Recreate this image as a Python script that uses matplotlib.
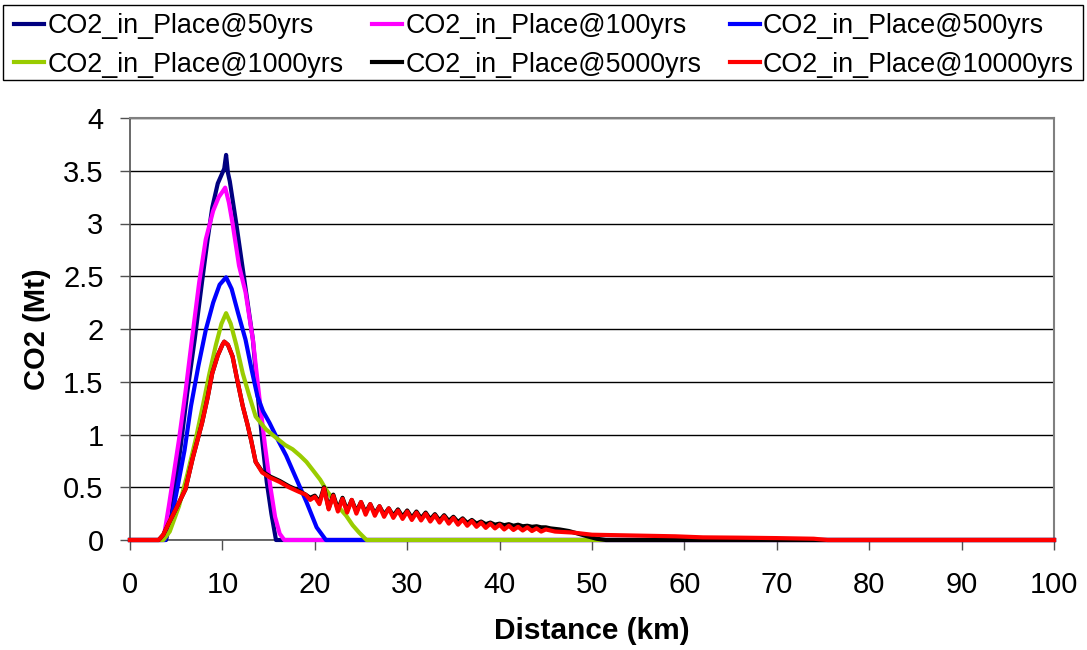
import numpy as np
import matplotlib.pyplot as plt
from matplotlib.lines import Line2D
from matplotlib.patches import Rectangle
from matplotlib.ticker import FormatStrFormatter, MultipleLocator

plt.rcParams['font.family'] = ['Liberation Sans', 'DejaVu Sans']

# CO2 in place (Mt) against distance (km)
x_50 = [0, 3.9, 4.5, 5.5, 6.2, 7.0, 7.8, 8.4, 8.9, 9.5, 10.0, 10.2, 10.4, 10.6, 10.8, 11.5,
        12.4, 13.3, 13.8, 14.3, 14.8, 15.3, 15.8, 100]
y_50 = [0, 0, 0.25, 0.9, 1.4, 1.9, 2.45, 2.85, 3.15, 3.38, 3.48, 3.52, 3.65, 3.48, 3.4, 3.0,
        2.45, 1.9, 1.4, 0.95, 0.55, 0.25, 0, 0]

x_100 = [0, 3.6, 4.2, 5.3, 6.0, 6.7, 7.5, 8.2, 9.0, 9.6, 10.0, 10.3, 10.7, 11.1, 11.8, 12.5,
         13.3, 14.0, 14.6, 15.2, 15.7, 16.2, 16.7, 100]
y_100 = [0, 0, 0.32, 0.95, 1.4, 1.9, 2.45, 2.85, 3.12, 3.25, 3.3, 3.34, 3.2, 3.0, 2.6, 2.35,
         1.9, 1.35, 0.9, 0.5, 0.22, 0.06, 0, 0]

x_500 = [0, 3.8, 4.3, 5.1, 5.9, 6.6, 7.4, 8.2, 9.0, 9.7, 10.4, 11.0, 11.7, 12.5, 13.2, 13.8,
         14.4, 15.1, 16.0, 16.9, 18.0, 19.1, 20.2, 21.2, 100]
y_500 = [0, 0, 0.12, 0.48, 0.85, 1.27, 1.65, 1.99, 2.25, 2.42, 2.49, 2.38, 2.15, 1.9, 1.6, 1.36,
         1.22, 1.11, 0.95, 0.8, 0.58, 0.36, 0.12, 0, 0]

x_1000 = [0, 3.6, 4.3, 5.3, 6.2, 7.1, 7.9, 8.6, 9.3, 9.9, 10.4, 10.9, 11.5, 12.2, 12.9, 13.6,
          14.7, 15.8, 16.8, 17.6, 18.4, 19.1, 19.9, 20.6, 21.2, 22.0, 22.7, 23.4, 24.1, 24.8,
          25.6, 100]
y_1000 = [0, 0, 0.08, 0.32, 0.62, 0.95, 1.28, 1.58, 1.85, 2.05, 2.15, 2.05, 1.85, 1.58, 1.37, 1.17,
          1.05, 0.97, 0.9, 0.86, 0.8, 0.74, 0.65, 0.57, 0.48, 0.38, 0.3, 0.23, 0.14, 0.07,
          0, 0]

x_5000 = [0, 3.1, 3.6, 4.2, 5.0, 6.0, 6.8, 7.8, 8.4, 8.9, 9.5, 10.0, 10.2, 10.6, 11.1, 11.6,
          12.2, 12.7, 13.1, 13.6, 14.3, 15.2, 16.2, 17.2, 18.2,
          19.0, 19.5, 20.0, 20.5, 21.0, 21.5, 22.0, 22.5, 23.0, 23.5, 24.0, 24.5, 25.0, 25.5,
          26.0, 26.5, 27.0, 27.5, 28.0, 28.5, 29.0, 29.5, 30.0, 30.5, 31.0, 31.5, 32.0, 32.5,
          33.0, 33.5, 34.0, 34.5, 35.0, 35.5, 36.0, 36.5, 37.0, 37.5, 38.0, 38.5, 39.0, 39.5,
          40.0, 40.5, 41.0, 41.5, 42.0, 42.5, 43.0, 43.5, 44.0, 44.5, 45.0,
          45.5, 46.5, 47.5, 48.5, 49.5, 50.5, 51.5, 100]
y_5000 = [0, 0, 0.05, 0.16, 0.3, 0.48, 0.78, 1.11, 1.35, 1.58, 1.75, 1.85, 1.88, 1.85, 1.74, 1.52,
          1.27, 1.1, 0.95, 0.74, 0.65, 0.6, 0.56, 0.51, 0.47,
          0.43, 0.40, 0.42, 0.36, 0.50, 0.30, 0.43, 0.29, 0.40, 0.28, 0.38, 0.27, 0.36, 0.26,
          0.34, 0.25, 0.32, 0.24, 0.30, 0.23, 0.29, 0.22, 0.28, 0.21, 0.27, 0.205, 0.26, 0.195,
          0.245, 0.185, 0.235, 0.18, 0.22, 0.17, 0.205, 0.16, 0.19, 0.155, 0.175, 0.15, 0.165, 0.145,
          0.155, 0.14, 0.15, 0.135, 0.145, 0.13, 0.135, 0.125, 0.13, 0.12, 0.12,
          0.11, 0.10, 0.085, 0.06, 0.035, 0.012, 0, 0]

x_10000 = [0, 3.1, 3.6, 4.2, 5.0, 6.0, 6.8, 7.8, 8.4, 8.9, 9.5, 10.0, 10.2, 10.6, 11.1, 11.6,
           12.2, 12.7, 13.1, 13.6, 14.3, 15.2, 16.2, 17.2, 18.2,
           19.0, 19.5, 20.0, 20.5, 21.0, 21.5, 22.0, 22.5, 23.0, 23.5, 24.0, 24.5, 25.0, 25.5,
           26.0, 26.5, 27.0, 27.5, 28.0, 28.5, 29.0, 29.5, 30.0, 30.5, 31.0, 31.5, 32.0, 32.5,
           33.0, 33.5, 34.0, 34.5, 35.0, 35.5, 36.0, 36.5, 37.0, 37.5, 38.0, 38.5, 39.0, 39.5,
           40.0, 40.5, 41.0, 41.5, 42.0, 42.5, 43.0, 43.5, 44.0, 44.5, 45.0,
           46.0, 47.0, 48.0, 49.0, 50.0, 53.0, 56.0, 59.0, 62.0, 66.0, 70.0, 74.0, 75.5, 100]
y_10000 = [0, 0, 0.05, 0.16, 0.3, 0.48, 0.78, 1.11, 1.35, 1.58, 1.75, 1.85, 1.88, 1.85, 1.74, 1.52,
           1.27, 1.1, 0.95, 0.74, 0.64, 0.59, 0.55, 0.5, 0.46,
           0.43, 0.38, 0.41, 0.34, 0.49, 0.29, 0.42, 0.27, 0.39, 0.26, 0.38, 0.25, 0.36, 0.24,
           0.34, 0.23, 0.32, 0.22, 0.30, 0.21, 0.28, 0.20, 0.27, 0.19, 0.26, 0.185, 0.25, 0.175,
           0.235, 0.165, 0.225, 0.155, 0.21, 0.145, 0.195, 0.135, 0.18, 0.125, 0.165, 0.115, 0.155, 0.11,
           0.145, 0.10, 0.135, 0.095, 0.125, 0.09, 0.12, 0.085, 0.11, 0.08, 0.10,
           0.08, 0.075, 0.07, 0.06, 0.05, 0.045, 0.04, 0.035, 0.025, 0.022, 0.018, 0.012, 0, 0]

series = [
    ('CO2_in_Place@50yrs', x_50, y_50, '#000080'),
    ('CO2_in_Place@100yrs', x_100, y_100, '#FF00FF'),
    ('CO2_in_Place@500yrs', x_500, y_500, '#0000FF'),
    ('CO2_in_Place@1000yrs', x_1000, y_1000, '#99CC00'),
    ('CO2_in_Place@5000yrs', x_5000, y_5000, '#000000'),
    ('CO2_in_Place@10000yrs', x_10000, y_10000, '#FF0000'),
]

W, H = 1087, 650
fig = plt.figure(figsize=(W / 100, H / 100), dpi=100)
ax = fig.add_axes([130 / W, 1 - 540 / H, 924 / W, 422 / H])

handles = []
for label, xs, ys, color in series:
    line, = ax.plot(xs, ys, color=color, lw=3.0, label=label, clip_on=False, zorder=3)
    handles.append(line)

ax.set_xlim(0, 100)
ax.set_ylim(0, 4)
ax.xaxis.set_major_locator(MultipleLocator(10))
ax.yaxis.set_major_locator(MultipleLocator(0.5))
ax.yaxis.set_major_formatter(FormatStrFormatter('%g'))
ax.grid(axis='y', color='black', lw=1.0)
ax.set_axisbelow(True)

for side in ['top', 'right']:
    ax.spines[side].set_color('#808080')
    ax.spines[side].set_linewidth(1.5)
for side in ['left', 'bottom']:
    ax.spines[side].set_color('#505050')
    ax.spines[side].set_linewidth(1.2)

ax.tick_params(axis='both', direction='out', length=7, width=1, color='#505050', labelsize=21)
ax.tick_params(axis='x', pad=15)
ax.tick_params(axis='y', pad=12)

ax.set_xlabel('Distance (km)', fontsize=21.5, fontweight='bold', labelpad=13)
ax.set_ylabel('CO2 (Mt)', fontsize=21, fontweight='bold', labelpad=9)

# legend: Excel puts entries row by row, matplotlib fills columns first
order = [0, 3, 1, 4, 2, 5]
fig.legend([handles[i] for i in order], [series[i][0] for i in order],
           ncol=3, loc='upper left', bbox_to_anchor=(14 / W, 1 - 13 / H),
           frameon=False, fontsize=19.4, handlelength=1.12, handletextpad=0.12,
           columnspacing=1.05, labelspacing=0.47, borderpad=0, borderaxespad=0)
fig.patches.append(Rectangle((3 / W, 1 - 80 / H), 1080 / W, 75 / H, transform=fig.transFigure,
                             fill=False, edgecolor='black', lw=1))

fig.savefig('out.png', dpi=100)
